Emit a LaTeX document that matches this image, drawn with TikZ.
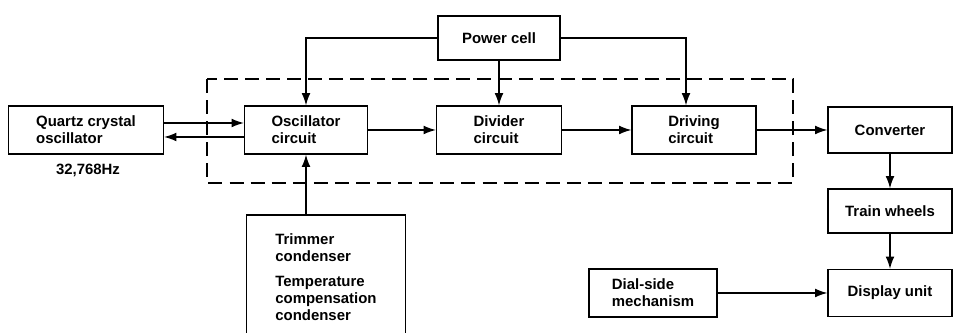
\documentclass[tikz,border=0pt]{standalone}
\usepackage{fontspec}
\setmainfont{Liberation Sans}
\usetikzlibrary{arrows.meta}
\begin{document}
\begin{tikzpicture}[
        x = 0.02cm, y = -0.02cm, % one unit is one pixel of the original
        > = {Latex[length=7pt,width=5pt]}, % arrow head style
        line width = 0.7pt, % line style
        block/.style = {draw, align=left, inner sep=2pt,
                        font=\fontsize{8.5}{9.5}\selectfont\bfseries},
        frame/.style = {dashed, dash pattern=on 8pt off 4pt},
    ]
    \clip (0,0) rectangle (954,333);
    \node[block, minimum width=155*0.02cm, minimum height=48*0.02cm] (quartz) at (86,130){Quartz crystal\\oscillator};
    \node[block, minimum width=123*0.02cm, minimum height=48*0.02cm] (osc) at (306,130){Oscillator\\circuit};
    \node[block, minimum width=125*0.02cm, minimum height=48*0.02cm] (div) at (499,130){Divider\\circuit};
    \node[block, minimum width=124*0.02cm, minimum height=48*0.02cm] (drive) at (694,130){Driving\\circuit};
    \node[block, minimum width=124*0.02cm, minimum height=46*0.02cm] (conv) at (890,130){Converter};
    \node[block, minimum width=124*0.02cm, minimum height=44*0.02cm] (train) at (890,211){Train wheels};
    \node[block, minimum width=124*0.02cm, minimum height=47*0.02cm] (disp) at (890,293){Display unit};
    \node[block, minimum width=128*0.02cm, minimum height=48*0.02cm] (dial) at (653,293){Dial-side\\mechanism};
    \node[block, minimum width=122*0.02cm, minimum height=44*0.02cm] (pwr) at (499,38){Power cell};
    \node[block, minimum width=159*0.02cm, minimum height=124*0.02cm] (trim) at (326,277){Trimmer\\condenser\\[5pt]Temperature\\compensation\\condenser};
    \node[font=\fontsize{8.5}{9.5}\selectfont\bfseries] (freq) at (88,170){32,768Hz};
    \draw[frame] (207,79) rectangle (793,183);
    \draw[->] ([yshift=0.14cm]quartz.east) -- ([yshift=0.14cm]osc.west);
    \draw[->] ([yshift=-0.14cm]osc.west) -- ([yshift=-0.14cm]quartz.east);
    \draw[->] (osc) -- (div);
    \draw[->] (div) -- (drive);
    \draw[->] (drive) -- (conv);
    \draw[->] (conv) -- (train);
    \draw[->] (train) -- (disp);
    \draw[->] (dial) -- (disp);
    \draw[->] (osc.south |- trim.north) -- (osc.south);
    \draw[->] (pwr.west) -| (osc.north);
    \draw[->] (pwr.south) -- (div.north);
    \draw[->] (pwr.east) -| ([xshift=-0.16cm]drive.north);
\end{tikzpicture}
\end{document}
